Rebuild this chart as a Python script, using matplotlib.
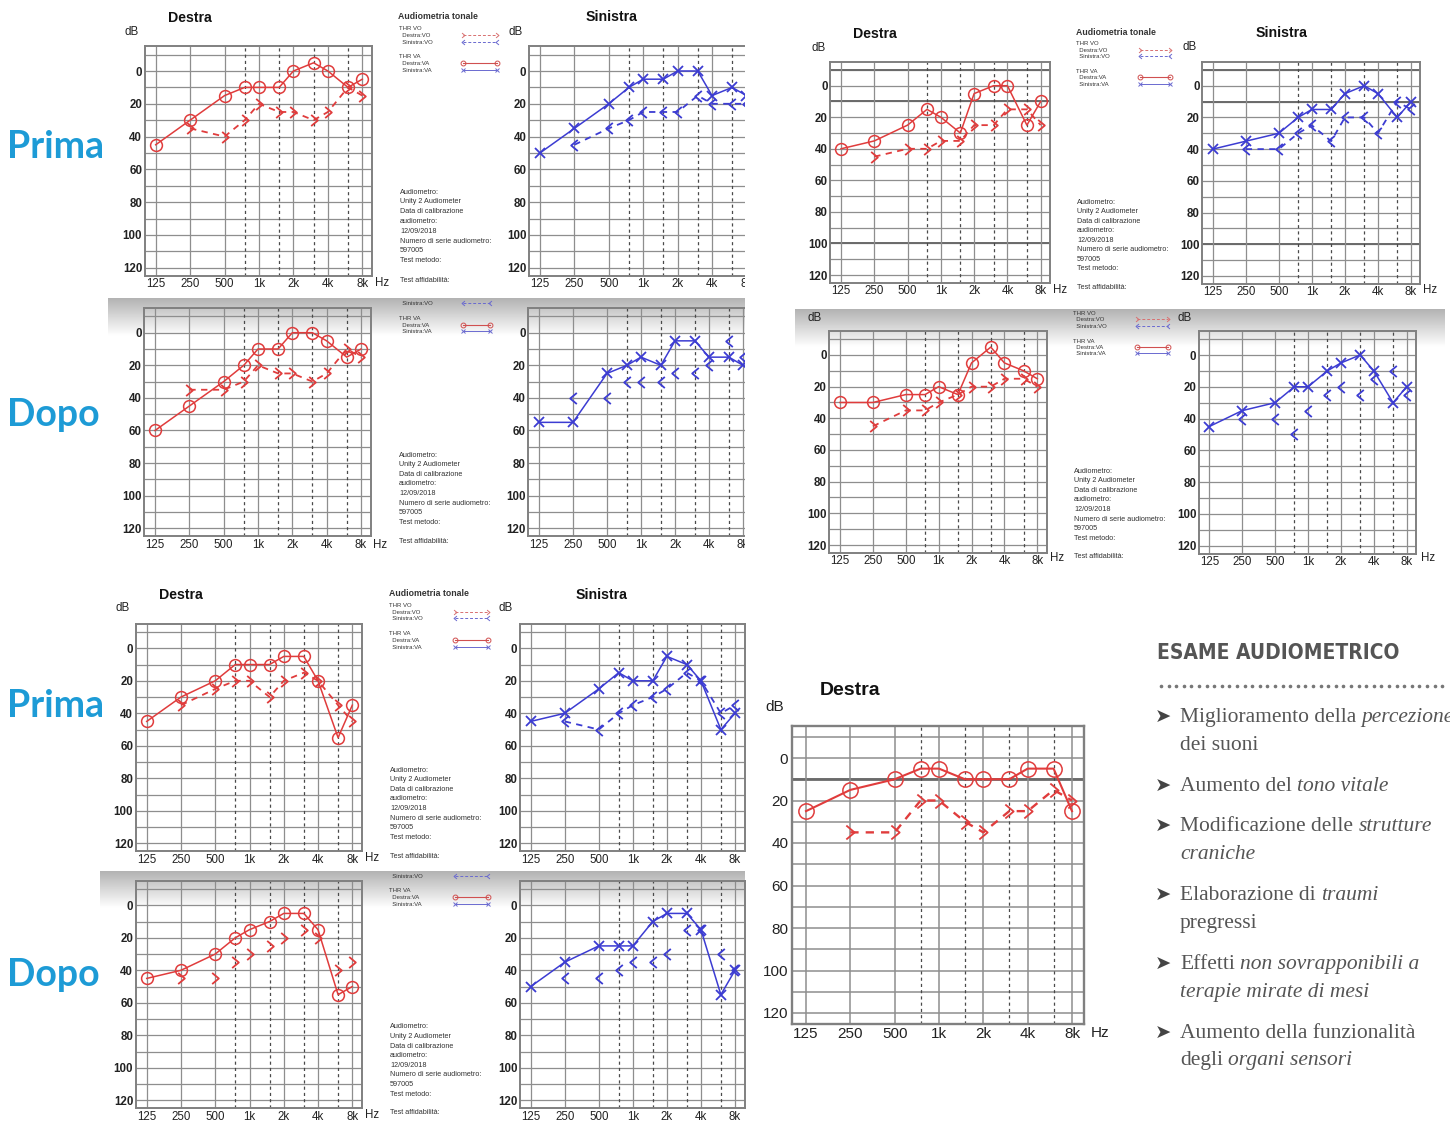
import numpy as np
import matplotlib
matplotlib.use("Agg")
import matplotlib.pyplot as plt
from matplotlib.path import Path
from matplotlib.patches import Rectangle
from matplotlib import font_manager
from matplotlib.font_manager import FontProperties

W, H = 1450, 1122

# ---------------- data ----------------
freqs = [125, 250, 500, 750, 1000, 1500, 2000, 3000, 4000, 6000, 8000]
bc_freqs = [250, 500, 750, 1000, 1500, 2000, 3000, 4000, 6000, 8000]
xtick_freqs = [125, 250, 500, 1000, 2000, 4000, 8000]
xtick_labels = ["125", "250", "500", "1k", "2k", "4k", "8k"]
half_octaves = [750, 1500, 3000, 6000]
ytick_values = [0, 20, 40, 60, 80, 100, 120]

# top-left block (Prima / Dopo)
a1_va = [45, 30, 15, 10, 10, 10, 0, -5, 0, 10, 5]
a1_vo = [35, 40, 30, 20, 25, 25, 30, 25, 10, 15]
a2_va = [50, 35, 20, 10, 5, 5, 0, 0, 15, 10, 15]
a2_vo = [45, 35, 30, 25, 25, 25, 15, 20, 20, 20]
a3_va = [60, 45, 30, 20, 10, 10, 0, 0, 5, 15, 10]
a3_vo = [35, 35, 30, 20, 25, 25, 30, 25, 10, 15]
a4_va = [55, 55, 25, 20, 15, 20, 5, 5, 15, 15, 20]
a4_vo = [40, 40, 30, 30, 30, 25, 25, 20, 5, 15]
# top-right block
b1_va = [40, 35, 25, 15, 20, 30, 5, 0, 0, 25, 10]
b1_vo = [45, 40, 40, 35, 35, 25, 25, 15, 15, 25]
b2_va = [40, 35, 30, 20, 15, 15, 5, 0, 5, 20, 10]
b2_vo = [40, 40, 30, 25, 35, 20, 20, 30, 10, 15]
b3_va = [30, 30, 25, 25, 20, 25, 5, -5, 5, 10, 15]
b3_vo = [45, 35, 35, 30, 25, 20, 20, 15, 15, 20]
b4_va = [45, 35, 30, 20, 20, 10, 5, 0, 10, 30, 20]
b4_vo = [40, 40, 50, 35, 25, 20, 25, 15, 10, 25]
# bottom-left block
c1_va = [45, 30, 20, 10, 10, 10, 5, 5, 20, 55, 35]
c1_vo = [35, 25, 20, 20, 30, 20, 15, 20, 35, 45]
c2_va = [45, 40, 25, 15, 20, 20, 5, 10, 20, 50, 40]
c2_vo = [45, 50, 40, 35, 30, 25, 15, 20, 40, 35]
c3_va = [45, 40, 30, 20, 15, 10, 5, 5, 15, 55, 50]
c3_vo = [45, 45, 35, 30, 25, 20, 15, 20, 40, 35]
c4_va = [50, 35, 25, 25, 25, 10, 5, 5, 15, 55, 40]
c4_vo = [45, 45, 40, 35, 35, 30, 15, 15, 30, 40]
# bottom-right big chart
d_va = [25, 15, 10, 5, 5, 10, 10, 10, 5, 5, 25]
d_vo = [35, 35, 20, 20, 30, 35, 25, 25, 15, 20]

side_info = ["Audiometro:", "Unity 2 Audiometer", "Data di calibrazione",
             "audiometro:", "12/09/2018", "Numero di serie audiometro:",
             "597005", "Test metodo:"]

bullet_title = "ESAME AUDIOMETRICO"
bullet_lines = [
    (717, True, [("Miglioramento della ", False), ("percezione", True)]),
    (745, False, [("dei suoni", False)]),
    (786, True, [("Aumento del ", False), ("tono vitale", True)]),
    (826, True, [("Modificazione delle ", False), ("strutture", True)]),
    (854, False, [("craniche", True)]),
    (895, True, [("Elaborazione di ", False), ("traumi", True)]),
    (923, False, [("pregressi", False)]),
    (964, True, [("Effetti ", False), ("non sovrapponibili a", True)]),
    (992, False, [("terapie mirate di mesi", True)]),
    (1033, True, [("Aumento della funzionalità", False)]),
    (1061, False, [("degli ", False), ("organi sensori", True)]),
]

# ---------------- style ----------------
RED = "#e03c3c"
BLUE = "#3c3cd2"
GRID = "#8e8e8e"
SANS = "Liberation Sans"
XLIM = (-0.32, 6.28)
YLIM = (125, -15)

fig = plt.figure(figsize=(W / 100, H / 100), dpi=100)
fig.patch.set_facecolor("white")

bg = fig.add_axes([0, 0, 1, 1], zorder=0)
bg.set_xlim(0, W)
bg.set_ylim(H, 0)
bg.axis("off")


def octave(f):
    return np.log2(np.asarray(f, dtype=float) / 125.0)


def chevron(direction):
    if direction == "right":
        verts = [(-0.6, 1.0), (0.6, 0.0), (-0.6, -1.0)]
    else:
        verts = [(0.6, 1.0), (-0.6, 0.0), (0.6, -1.0)]
    return Path(verts, [Path.MOVETO, Path.LINETO, Path.LINETO])


CHEV_R = chevron("right")
CHEV_L = chevron("left")

# gradients on the "Dopo" screenshots
grad = np.linspace(0.70, 1.0, 60).reshape(-1, 1)
for (gx0, gx1, gy0, gy1) in [(108, 745, 298, 336), (795, 1445, 309, 347), (100, 745, 871, 908)]:
    bg.imshow(grad, extent=(gx0, gx1, gy1, gy0), origin="upper", cmap="gray",
              vmin=0, vmax=1, aspect="auto", zorder=0, interpolation="bilinear")
bg.set_xlim(0, W)
bg.set_ylim(H, 0)


def draw_panel(p):
    x125, x8k, y0, y120 = p["geo"]
    ppo = (x8k - x125) / 6.0
    ppd = (y120 - y0) / 120.0
    left = x125 + XLIM[0] * ppo
    right = x125 + XLIM[1] * ppo
    top = y0 + YLIM[1] * ppd
    bottom = y0 + YLIM[0] * ppd
    ax = fig.add_axes([left / W, 1 - bottom / H, (right - left) / W, (bottom - top) / H], zorder=2)
    ax.patch.set_alpha(0)
    ax.set_xlim(*XLIM)
    ax.set_ylim(*YLIM)
    big = p.get("big", False)
    for v in range(-10, 121, 10):
        ax.axhline(v, color=GRID, lw=1.1 if big else 0.9, zorder=1)
    for b in p.get("bold", []):
        ax.axhline(b, color="#6a6a6a", lw=2.0 if big else 1.4, zorder=1)
    for f in xtick_freqs:
        ax.axvline(octave(f), color=GRID, lw=1.1 if big else 0.9, zorder=1)
    for f in half_octaves:
        ax.axvline(octave(f), color="#4a4a4a", lw=0.9, ls=(0, (2.5, 2.5)), zorder=1)
    for s in ax.spines.values():
        s.set_color("#808080")
        s.set_linewidth(1.7 if big else 1.4)

    col = RED if p["ear"] == "R" else BLUE
    lw = 1.5 if big else 1.1
    if p["ear"] == "R":
        ax.plot(octave(freqs), p["va"], color=col, lw=lw, marker="o",
                ms=11 if big else 8.5, mfc="none", mec=col, mew=1.1,
                zorder=4, clip_on=False)
        chev = CHEV_R
    else:
        ax.plot(octave(freqs), p["va"], color=col, lw=lw, marker="x",
                ms=9 if big else 7.5, mew=1.3, zorder=4, clip_on=False)
        chev = CHEV_L
    ax.plot(octave(bc_freqs), p["vo"], color=col, lw=lw + 0.2,
            ls=(0, (3.5, 3)) if p["vo_line"] else "none",
            marker=chev, ms=10 if big else 8,
            mfc="none", mec=col, mew=1.3, zorder=4, clip_on=False)

    fs = 11 if big else 8.3
    ax.set_xticks(octave(xtick_freqs))
    ax.set_xticklabels(xtick_labels, fontsize=fs, family=SANS, color="#222222")
    ax.set_yticks(ytick_values)
    ax.set_yticklabels([str(v) for v in ytick_values], fontsize=fs,
                       family=SANS, fontweight="normal" if big else "bold", color="#222222")
    ax.tick_params(length=0, pad=2.5 if big else 1.8)

    ttl = "Destra" if p["ear"] == "R" else "Sinistra"
    if p.get("title"):
        bg.text(*p["title"], ttl, fontsize=14 if big else 10.2, fontweight="bold",
                family=SANS, ha="center", va="center", color="#111111", zorder=3)
    if p.get("db"):
        bg.text(*p["db"], "dB", fontsize=11 if big else 8.3, family=SANS,
                ha="center", va="center", color="#222222", zorder=3)
    if p.get("hz"):
        bg.text(*p["hz"], "Hz", fontsize=fs, family=SANS,
                ha="center", va="center", color="#222222", zorder=3)
    return ax


panels = [
    dict(ear="R", va=a1_va, vo=a1_vo, vo_line=True, geo=(155.7, 362.3, 71, 267.7), title=(190, 18), db=(132, 32), hz=(382, 283)),
    dict(ear="L", va=a2_va, vo=a2_vo, vo_line=True, geo=(540, 746.4, 71, 267.7), title=(612, 17), db=(516, 32)),
    dict(ear="R", va=a3_va, vo=a3_vo, vo_line=True, geo=(155, 361, 332.7, 528.3), hz=(380, 545)),
    dict(ear="L", va=a4_va, vo=a4_vo, vo_line=False, geo=(539, 743, 332.7, 528.3)),
    dict(ear="R", va=b1_va, vo=b1_vo, vo_line=True, geo=(841, 1040.7, 85.7, 275), title=(875, 34), db=(819, 48), hz=(1060, 290), bold=[-10, 10, 100]),
    dict(ear="L", va=b2_va, vo=b2_vo, vo_line=True, geo=(1212.7, 1411, 85.7, 276), title=(1282, 33), db=(1190, 47), hz=(1430, 290), bold=[-10, 10, 100]),
    dict(ear="R", va=b3_va, vo=b3_vo, vo_line=True, geo=(840, 1037.3, 355, 545), db=(815, 318), hz=(1057, 558)),
    dict(ear="L", va=b4_va, vo=b4_vo, vo_line=False, geo=(1209.3, 1406.7, 355, 545.7), db=(1185, 318), hz=(1428, 558)),
    dict(ear="R", va=c1_va, vo=c1_vo, vo_line=True, geo=(146.7, 352.3, 648.3, 843.3), title=(181, 595), db=(123, 608), hz=(372, 858)),
    dict(ear="L", va=c2_va, vo=c2_vo, vo_line=True, geo=(530.7, 735, 648.3, 843.3), title=(602, 595), db=(506, 608)),
    dict(ear="R", va=c3_va, vo=c3_vo, vo_line=False, geo=(146.7, 352.3, 905.3, 1100.3), hz=(372, 1115)),
    dict(ear="L", va=c4_va, vo=c4_vo, vo_line=False, geo=(530.7, 735, 905.3, 1100.3)),
    dict(ear="R", va=d_va, vo=d_vo, vo_line=True, geo=(806, 1072, 758, 1013), title=(850, 690), db=(775, 707), hz=(1100, 1033), big=True, bold=[10]),
]
for p in panels:
    draw_panel(p)


# ---------------- side texts ----------------
def stext(x, y, s, fs=5.0, bold=False):
    bg.text(x, y, s, fontsize=fs, family=SANS, fontweight="bold" if bold else "normal",
            ha="left", va="center", color="#333333", zorder=3)


def legend_sample(x0, x1, y, kind):
    if kind == "RVO":
        bg.plot([x0, x1], [y, y], color="#d87070", lw=0.7, ls=(0, (3, 2)), marker=CHEV_R, ms=3.5, mfc="none", mew=0.7, zorder=3)
    elif kind == "LVO":
        bg.plot([x0, x1], [y, y], color="#6a6ad0", lw=0.7, ls=(0, (3, 2)), marker=CHEV_L, ms=3.5, mfc="none", mew=0.7, zorder=3)
    elif kind == "RVA":
        bg.plot([x0, x1], [y, y], color="#d05050", lw=0.8, marker="o", ms=3.5, mfc="none", mew=0.7, zorder=3)
    else:
        bg.plot([x0, x1], [y, y], color="#6a6ad0", lw=0.7, marker="x", ms=3, mew=0.7, zorder=3)


def legend_block(x, lx0, lx1, entries):
    for (y, label, kind) in entries:
        stext(x, y, label, fs=4.3)
        if kind:
            legend_sample(lx0, lx1, y, kind)


def info_block(x, y_start, dy, y_last):
    for i, s in enumerate(side_info):
        stext(x, y_start + i * dy, s, fs=5.2)
    stext(x, y_last, "Test affidabilità:", fs=5.2)


# A Prima
stext(398, 16, "Audiometria tonale", fs=6.3, bold=True)
legend_block(399, 463, 497, [(28, "THR VO", None), (35, "  Destra:VO", "RVO"), (42, "  Sinistra:VO", "LVO"),
                             (56, "THR VA", None), (63, "  Destra:VA", "RVA"), (70, "  Sinistra:VA", "LVA")])
info_block(400, 192, 9.8, 280)
# A Dopo
legend_block(399, 463, 490, [(303, "  Sinistra:VO", "LVO"), (318, "THR VA", None),
                             (325, "  Destra:VA", "RVA"), (331, "  Sinistra:VA", "LVA")])
info_block(399, 455, 9.6, 541)
# B Prima
stext(1076, 32, "Audiometria tonale", fs=6.3, bold=True)
legend_block(1076, 1140, 1170, [(43, "THR VO", None), (50, "  Destra:VO", "RVO"), (56, "  Sinistra:VO", "LVO"),
                                (71, "THR VA", None), (77, "  Destra:VA", "RVA"), (84, "  Sinistra:VA", "LVA")])
info_block(1077, 202, 9.5, 287)
# B Dopo
legend_block(1073, 1137, 1168, [(313, "THR VO", None), (319, "  Destra:VO", "RVO"), (326, "  Sinistra:VO", "LVO"),
                                (341, "THR VA", None), (347, "  Destra:VA", "RVA"), (353, "  Sinistra:VA", "LVA")])
info_block(1074, 471, 9.6, 556)
# C Prima
stext(389, 593, "Audiometria tonale", fs=6.3, bold=True)
legend_block(389, 455, 488, [(605, "THR VO", None), (612, "  Destra:VO", "RVO"), (618, "  Sinistra:VO", "LVO"),
                             (633, "THR VA", None), (640, "  Destra:VA", "RVA"), (647, "  Sinistra:VA", "LVA")])
info_block(390, 770, 9.6, 856)
# C Dopo
legend_block(389, 455, 488, [(876, "  Sinistra:VO", "LVO"), (890, "THR VA", None),
                             (897, "  Destra:VA", "RVA"), (904, "  Sinistra:VA", "LVA")])
info_block(390, 1027, 9.6, 1113)

# Prima / Dopo labels
for (y, s) in [(147, "Prima"), (415, "Dopo"), (706, "Prima"), (975, "Dopo")]:
    bg.text(7, y, s, fontsize=27, family="Lato", fontweight="bold", color="#1d9bd6",
            ha="left", va="center", zorder=3)

# ---------------- right text panel ----------------
renderer = fig.canvas.get_renderer()


def find_condensed():
    best = None
    for f in font_manager.fontManager.ttflist:
        nm = f.name.lower()
        st = str(f.stretch).lower()
        fn = f.fname.lower()
        cond = ("narrow" in nm or "condensed" in nm or "condensed" in st
                or "narrow" in fn or "condensed" in fn)
        if not cond:
            continue
        if str(f.style).lower() != "normal":
            continue
        w = f.weight
        try:
            w = int(w)
        except Exception:
            w = 700 if "bold" in str(w).lower() else 400
        score = -abs(w - 700)
        if best is None or score > best[0]:
            best = (score, f.fname)
    return best[1] if best else None


cfont = find_condensed()
if cfont:
    tprop = FontProperties(fname=cfont, size=20)
else:
    tprop = FontProperties(family="DejaVu Sans", weight="bold", size=20)
t = bg.text(1157, 653, bullet_title, fontproperties=tprop,
            color="#555555", ha="left", va="center", zorder=3)
bb = t.get_window_extent(renderer)
t.set_fontsize(20 * 241.0 / bb.width)

xs = np.arange(1161, 1443, 7.6)
bg.plot(xs, np.full_like(xs, 686), ls="none", marker="o", ms=1.6, color="#777777", zorder=3)

SERIF = "Liberation Serif"
BFS = 15.5


def text_width(s, style):
    tt = bg.text(0, -100, s, fontsize=BFS, family=SERIF, style=style)
    w = tt.get_window_extent(renderer).width
    tt.remove()
    return w


space_w = text_width("x x", "normal") - text_width("xx", "normal")
for (y, arrow, segs) in bullet_lines:
    if arrow:
        bg.text(1163, y, "➤", fontsize=14, family="DejaVu Sans", color="#444444",
                ha="center", va="center", zorder=3)
    x = 1180
    for (s, it) in segs:
        core = s.rstrip(" ")
        nsp = len(s) - len(core)
        style = "italic" if it else "normal"
        tt = bg.text(x, y, core, fontsize=BFS, family=SERIF, style=style,
                     color="#555555", ha="left", va="center", zorder=3)
        x += tt.get_window_extent(renderer).width + nsp * space_w

# white mask for the cropped right side of the left screenshots
ov = fig.add_axes([0, 0, 1, 1], zorder=10)
ov.set_xlim(0, W)
ov.set_ylim(H, 0)
ov.axis("off")
ov.add_patch(Rectangle((745, 0), 48, 562, facecolor="white", edgecolor="none"))

fig.savefig("out.png", dpi=100, facecolor="white")
